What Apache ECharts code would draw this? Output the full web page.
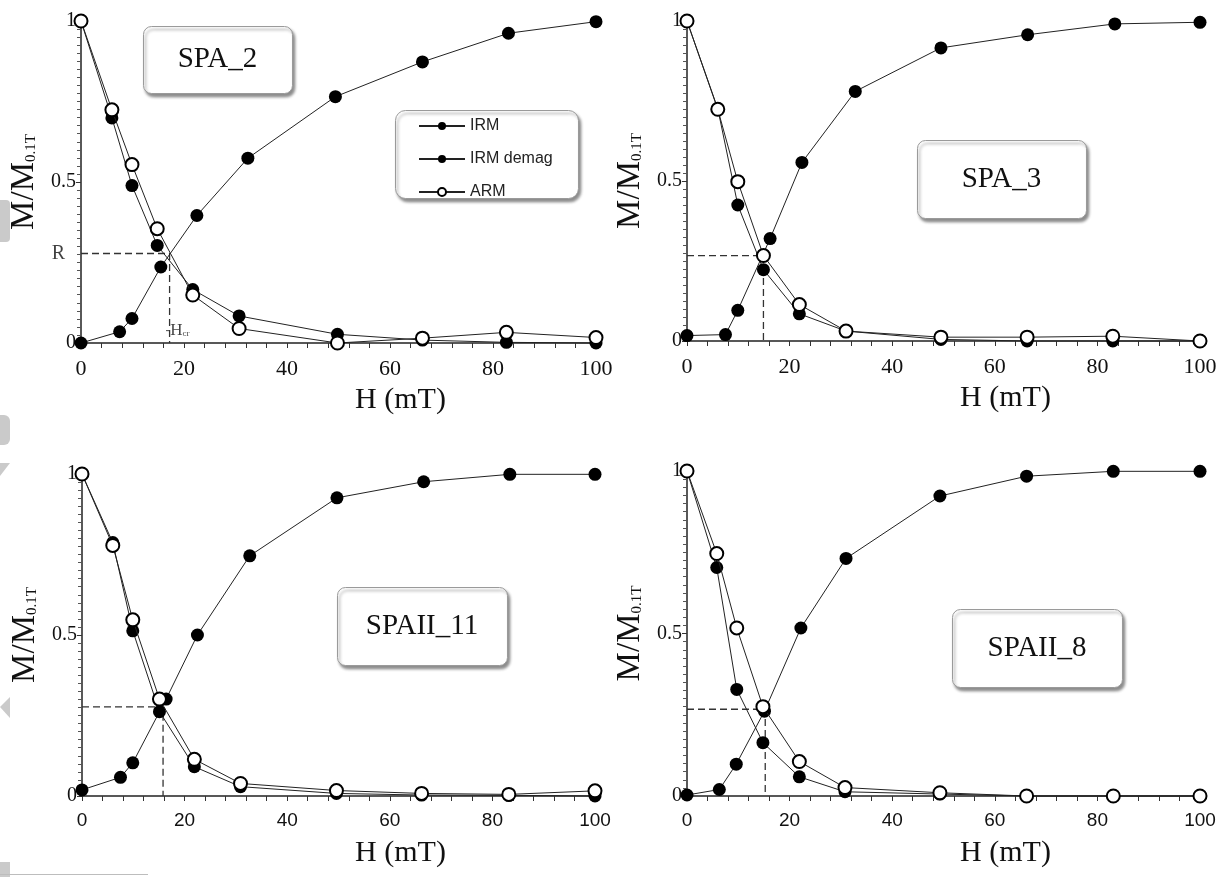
<!DOCTYPE html>
<html>
<head>
<meta charset="utf-8">
<script src="https://cdn.jsdelivr.net/npm/echarts@6/dist/echarts.min.js"></script>
<style>
html,body{margin:0;padding:0;background:#fff;}
#chart{width:1223px;height:877px;}
</style>
</head>
<body>
<div id="chart"></div>
<script>
// ---------- data (H in mT, M/M0.1T) ----------
const samples = ['SPA_2', 'SPA_3', 'SPAII_11', 'SPAII_8'];
const xTicks = [0, 20, 40, 60, 80, 100];
const yTicks = [0, 0.5, 1];

const irmH1 = [0, 7.5, 9.9, 15.5, 22.5, 32.4, 49.4, 66.3, 83.0, 100];
const irm1 = [0, 0.035, 0.076, 0.236, 0.396, 0.574, 0.765, 0.873, 0.962, 0.998];
const demagH1 = [0, 6, 9.9, 14.8, 21.7, 30.7, 49.8, 66.3, 82.6, 100];
const demag1 = [1, 0.699, 0.489, 0.303, 0.166, 0.084, 0.027, 0.009, 0.002, 0.0];
const arm1 = [1, 0.724, 0.554, 0.355, 0.149, 0.045, 0.0, 0.015, 0.033, 0.017];

const irmH2 = [0, 7.5, 9.9, 16.2, 22.4, 32.8, 49.5, 66.4, 83.4, 100];
const irm2 = [0.017, 0.02, 0.096, 0.32, 0.558, 0.78, 0.916, 0.957, 0.991, 0.996];
const demagH2 = [0, 6, 9.9, 14.9, 21.9, 31, 49.5, 66.3, 83, 100];
const demag2 = [1, 0.726, 0.425, 0.223, 0.085, 0.031, 0.005, 0, 0, 0];
const arm2 = [1, 0.724, 0.498, 0.267, 0.114, 0.031, 0.012, 0.012, 0.015, 0];

const irmH3 = [0, 7.5, 9.9, 16.4, 22.5, 32.7, 49.7, 66.6, 83.4, 100];
const irm3 = [0.019, 0.058, 0.103, 0.301, 0.5, 0.746, 0.926, 0.976, 0.999, 0.999];
const demagH3 = [0, 6, 9.9, 15.1, 21.9, 30.9, 49.6, 66.2, 83.2, 100];
const demag3 = [1, 0.787, 0.513, 0.262, 0.091, 0.029, 0.008, 0.003, 0.002, 0];
const arm3 = [1, 0.778, 0.547, 0.301, 0.114, 0.039, 0.017, 0.008, 0.005, 0.016];

const irmH4 = [0, 6.3, 9.6, 15.1, 22.2, 31.0, 49.3, 66.2, 83.1, 100];
const irm4 = [0.003, 0.02, 0.098, 0.261, 0.517, 0.731, 0.923, 0.984, 0.999, 0.999];
const demagH4 = [0, 5.8, 9.7, 14.8, 21.9, 30.8, 49.3, 66.2, 83.1, 100];
const demag4 = [1, 0.703, 0.328, 0.164, 0.059, 0.013, 0.006, 0, 0, 0];
const arm4 = [1, 0.746, 0.517, 0.275, 0.106, 0.026, 0.01, 0, 0, 0];

// crossing point R (ordinate) and Hcr (abscissa)
const crossR = [0.278, 0.267, 0.277, 0.267];
const crossHcr = [17.2, 14.9, 15.8, 15.25];

// ---------- build ----------
const panels = [
  {irmH: irmH1, irm: irm1, demagH: demagH1, demag: demag1, arm: arm1},
  {irmH: irmH2, irm: irm2, demagH: demagH2, demag: demag2, arm: arm2},
  {irmH: irmH3, irm: irm3, demagH: demagH3, demag: demag3, arm: arm3},
  {irmH: irmH4, irm: irm4, demagH: demagH4, demag: demag4, arm: arm4}
];
const zip = (xs, ys) => xs.map((x, i) => [x, ys[i]]);

const grids = [
  {left: 81, top: 21, width: 515, height: 322},
  {left: 687, top: 21, width: 513, height: 320},
  {left: 82, top: 474, width: 513, height: 322},
  {left: 687, top: 471, width: 513, height: 325}
];

const SERIF = 'Liberation Serif';
const SANS = 'Liberation Sans';

const xAxes = grids.map((g, i) => ({
  type: 'value', gridIndex: i, min: xTicks[0], max: xTicks[xTicks.length - 1], interval: 20,
  name: 'H (mT)', nameLocation: 'middle', nameGap: 42,
  nameTextStyle: {fontFamily: SERIF, fontSize: 30, color: '#111', padding: [0, 0, 0, 124]},
  axisLine: {lineStyle: {color: '#222', width: 1.5}},
  axisTick: {length: 5, lineStyle: {color: '#333'}},
  minorTick: {show: true, splitNumber: 5, length: 5, lineStyle: {color: '#333'}},
  splitLine: {show: false},
  axisLabel: {margin: 15, fontFamily: i < 2 ? SERIF : SANS, fontSize: i < 2 ? 22 : 19, color: '#111'}
}));

const yAxes = grids.map((g, i) => ({
  type: 'value', gridIndex: i, min: yTicks[0], max: yTicks[yTicks.length - 1], interval: 0.5,
  name: '{m|M/M}{s|0.1T}', nameLocation: 'middle', nameGap: 40,
  nameTextStyle: {
    color: '#111',
    rich: {
      m: {fontFamily: SERIF, fontSize: 33, color: '#111'},
      s: {fontFamily: SERIF, fontSize: 15, color: '#111', padding: [14, 0, 0, 0]}
    }
  },
  axisLine: {lineStyle: {color: '#222', width: 1.5}},
  axisTick: {length: 5, lineStyle: {color: '#333'}},
  minorTick: {show: true, splitNumber: 20, length: 4, lineStyle: {color: '#555'}},
  splitLine: {show: false},
  axisLabel: {margin: 5, fontFamily: SERIF, fontSize: 20, color: '#111',
    formatter: v => String(v)}
}));

const series = [];
panels.forEach((p, i) => {
  const common = {
    type: 'line', xAxisIndex: i, yAxisIndex: i, clip: false,
    symbol: 'circle', symbolSize: 13,
    lineStyle: {color: '#222', width: 1}, emphasis: {disabled: true}
  };
  series.push(Object.assign({}, common, {
    name: 'IRM', data: zip(p.irmH, p.irm), itemStyle: {color: '#000'}, z: 3
  }));
  series.push(Object.assign({}, common, {
    name: 'IRM demag', data: zip(p.demagH, p.demag), itemStyle: {color: '#000'}, z: 3
  }));
  series.push(Object.assign({}, common, {
    name: 'ARM', data: zip(p.demagH, p.arm),
    itemStyle: {color: '#fff', borderColor: '#000', borderWidth: 2}, z: 4
  }));
  // dashed guide lines through crossing point
  series.push({
    type: 'line', name: 'cross', xAxisIndex: i, yAxisIndex: i, silent: true,
    symbol: 'none', z: 2,
    lineStyle: {color: '#333', width: 1.3, type: [7, 4]},
    data: [[0, crossR[i]], [crossHcr[i], crossR[i]], [crossHcr[i], 0]]
  });
  if (i === 0) {
    series.push({
      type: 'scatter', name: 'labels', xAxisIndex: i, yAxisIndex: i, silent: true,
      symbolSize: 2, itemStyle: {color: 'rgba(0,0,0,0)'}, clip: false, z: 5,
      data: [
        {value: [0, crossR[i]], label: {show: true, formatter: 'R', position: 'left', distance: 15,
          fontFamily: SERIF, fontSize: 20, color: '#111'}},
        {value: [crossHcr[i], 0], label: {show: true, formatter: '{d|-}{h|H}{s|cr}', position: [-3, -20],
          rich: {
            d: {fontFamily: SERIF, fontSize: 14, color: '#333'},
            h: {fontFamily: SERIF, fontSize: 17, color: '#111'},
            s: {fontFamily: SERIF, fontSize: 9, color: '#111', padding: [6, 0, 0, 0]}
          }}}
      ]
    });
  }
});

// sample name boxes
const boxes = [
  {x: 143, y: 26, w: 149, h: 67},
  {x: 917, y: 140, w: 169, h: 78},
  {x: 337, y: 587, w: 170, h: 78},
  {x: 952, y: 609, w: 170, h: 78}
];
const graphics = [];
boxes.forEach((b, i) => {
  graphics.push({
    type: 'rect', z: 100, left: b.x, top: b.y,
    shape: {width: b.w, height: b.h, r: 8},
    style: {fill: '#fff', stroke: '#9a9a9a', lineWidth: 1,
      shadowBlur: 3, shadowColor: 'rgba(0,0,0,0.45)', shadowOffsetX: 2, shadowOffsetY: 3}
  });
  graphics.push({
    type: 'text', z: 101, x: b.x + b.w / 2, y: b.y + b.h / 2,
    style: {text: samples[i], fontFamily: SERIF, fontSize: 29, fill: '#111',
      align: 'center', verticalAlign: 'middle'}
  });
});
// legend box
graphics.push({
  type: 'rect', z: 100, left: 395, top: 110,
  shape: {width: 183, height: 88, r: 10},
  style: {fill: '#fff', stroke: '#9a9a9a', lineWidth: 1,
    shadowBlur: 3, shadowColor: 'rgba(0,0,0,0.45)', shadowOffsetX: 2, shadowOffsetY: 3}
});
// page-edge artefacts of the source scan
const artefactFill = '#cacaca';
graphics.push({type: 'rect', z: 0, left: 0, top: 200, shape: {width: 10, height: 42, r: [0, 4, 4, 0]}, style: {fill: artefactFill}});
graphics.push({type: 'rect', z: 0, left: 0, top: 415, shape: {width: 10, height: 30, r: [0, 6, 6, 0]}, style: {fill: artefactFill}});
graphics.push({type: 'polygon', z: 0, shape: {points: [[0, 463], [10, 463], [0, 476]]}, style: {fill: artefactFill}});
graphics.push({type: 'polygon', z: 0, shape: {points: [[0, 707], [10, 697], [10, 718]]}, style: {fill: artefactFill}});
graphics.push({type: 'rect', z: 0, left: 0, top: 862, shape: {width: 10, height: 15}, style: {fill: artefactFill}});
graphics.push({type: 'rect', z: 0, left: 0, top: 874, shape: {width: 148, height: 1}, style: {fill: '#bdbdbd'}});

const option = {
  backgroundColor: '#fff',
  animation: false,
  grid: grids,
  xAxis: xAxes,
  yAxis: yAxes,
  legend: {
    data: ['IRM', 'IRM demag', 'ARM'], orient: 'vertical', left: 418, top: 118,
    itemWidth: 46, itemHeight: 10, itemGap: 17, z: 110, padding: 0,
    textStyle: {fontFamily: SANS, fontSize: 16, color: '#222'}
  },
  graphic: graphics,
  series: series
};

const chart = echarts.init(document.getElementById('chart'), null, {renderer: 'canvas'});
chart.setOption(option);
</script>
</body>
</html>
